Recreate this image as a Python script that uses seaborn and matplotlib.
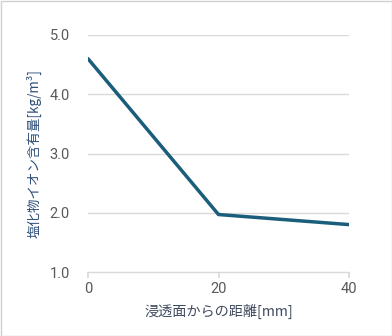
import matplotlib
matplotlib.use("Agg")
import matplotlib.pyplot as plt
import seaborn as sns
import pandas as pd
from matplotlib.patches import Rectangle

distance = [0, 20, 40]
chloride = [4.6, 1.97, 1.8]
x_ticks = [0, 20, 40]
y_ticks = [1.0, 2.0, 3.0, 4.0, 5.0]
x_label = "浸透面からの距離[mm]"
y_label = "塩化物イオン含有量[kg/m³]"

sns.set_theme(style="white")
plt.rcParams['font.family'] = ['Roboto', 'Noto Sans CJK JP', 'DejaVu Sans']

df = pd.DataFrame({"distance": distance, "chloride": chloride})

fig = plt.figure(figsize=(3.92, 3.36), dpi=100)
ax = fig.add_axes([88/392, 1-272/336, (349-88)/392, (272-35)/336])

for yv in y_ticks[1:]:
    ax.axhline(yv, color="#d9d9d9", lw=1, zorder=0)

sns.lineplot(data=df, x="distance", y="chloride", ax=ax, color="#1b5e7b", lw=2.5)

ax.set_xlim(0, 40)
ax.set_ylim(1.0, 5.0)
ax.set_xticks(x_ticks)
ax.set_yticks(y_ticks)
ax.set_xticklabels([str(v) for v in x_ticks], fontsize=10.5, color="#595959", family=['Roboto'])
ax.set_yticklabels([f"{v:.1f}" for v in y_ticks], fontsize=10.5, color="#595959", family=['Roboto'])
for s in ["top", "right", "left"]:
    ax.spines[s].set_visible(False)
ax.spines["bottom"].set_color("#d9d9d9")
ax.spines["bottom"].set_linewidth(1)
ax.tick_params(axis="x", bottom=True, length=4, color="#d9d9d9", pad=3)
ax.tick_params(axis="y", left=False, pad=7)

ax.set_xlabel(x_label, fontsize=10.2, color="#3f4a5e", family=['Noto Sans CJK JP', 'DejaVu Sans'], labelpad=6)
ax.set_ylabel(y_label, fontsize=9.7, color="#2f4f7a", family=['Noto Sans CJK JP', 'DejaVu Sans'], labelpad=6)

fig.patches.append(Rectangle((0.5/392, 0.5/336), 1-1/392, 1-1/336, transform=fig.transFigure,
                             fill=False, edgecolor="#d0d0d0", lw=1))

fig.savefig("out.png", dpi=100)
